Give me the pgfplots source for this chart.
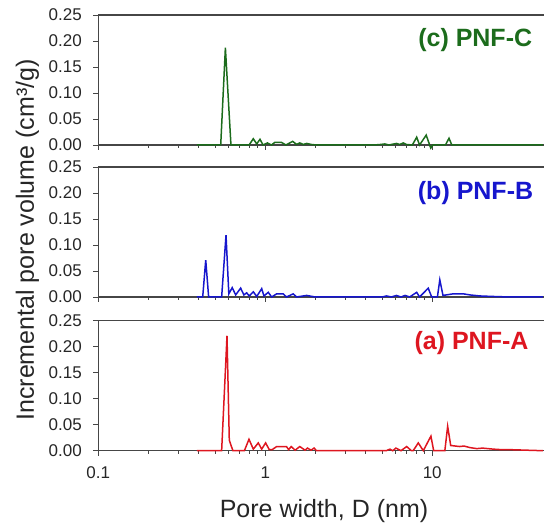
\documentclass[border=0pt]{standalone}
\usepackage{pgfplots}
\pgfplotsset{compat=1.18}
\usepackage{fontspec}
\setmainfont{Liberation Sans}
\definecolor{cred}{RGB}{222,22,32}
\definecolor{cblue}{RGB}{22,22,205}
\definecolor{cgreen}{RGB}{28,108,28}
\definecolor{axgray}{RGB}{70,70,70}
\pgfplotsset{
  panel/.style={
    width=445.7pt, height=130pt, scale only axis,
    xmin=0.1, xmax=46.7, ymin=0, ymax=0.25,
    axis x line*=box, axis y line*=left,
    xtick pos=lower, ytick pos=left,
    tick align=outside,
    major tick length=5pt, minor tick length=3pt,
    every tick/.style={axgray, line width=0.8pt},
    axis line style={axgray, line width=1.2pt},
    xtick={0.1,1,10},
    ytick={0,0.05,0.10,0.15,0.20,0.25},
    /pgf/number format/assume math mode=true,
    yticklabel={\pgfmathprintnumber[fixed,fixed zerofill,precision=2]{\tick}\hspace*{8pt}},
    yticklabel style={font=\fontsize{17}{20}\selectfont, text=black!85},
    xticklabel style={font=\fontsize{17}{20}\selectfont, text=black!85},
    clip=false,
  }
}
\begin{document}
\begin{tikzpicture}
\path[use as bounding box] (0,0) rectangle (544pt,-526pt);
% Panel C
\begin{semilogxaxis}[panel, at={(98.3pt,-145pt)}, anchor=south west, xticklabels={}]
\addplot[cgreen, line width=1.5pt] coordinates {
(0.39,0) (0.541,0) (0.577,0.187) (0.623,0) (0.80,0) (0.848,0.012) (0.889,0.002) (0.93,0.011) (0.97,0) (1.03,0.004) (1.09,0) (1.14,0.005) (1.25,0.005) (1.33,0) (1.46,0.007) (1.54,0.001) (1.61,0.004) (1.69,0.001) (1.77,0.003) (1.89,0.001) (2.03,0) (4.5,0) (4.9,0.001) (5.2,0.002) (5.5,0) (6.1,0.003) (6.4,0.001) (6.7,0.004) (7.0,0.001) (7.6,0) (8.07,0.015) (8.4,0) (9.2,0.019) (9.8,-0.006) (10.1,0) (12.0,0) (12.6,0.013) (13.1,0) (46,0)
};
\end{semilogxaxis}
% Panel B
\begin{semilogxaxis}[panel, at={(98.3pt,-297pt)}, anchor=south west, xticklabels={}]
\addplot[cblue, line width=1.5pt] coordinates {
(0.39,0) (0.422,0) (0.44,0.071) (0.458,0) (0.548,0) (0.582,0.119) (0.605,0.006) (0.634,0.018) (0.665,0.004) (0.712,0.017) (0.745,0.004) (0.774,0.008) (0.802,0.002) (0.848,0.010) (0.889,0.001) (0.952,0.016) (0.982,0.002) (1.042,0.009) (1.092,0) (1.17,0.006) (1.28,0.006) (1.34,0) (1.47,0.006) (1.54,0) (1.77,0.003) (1.99,0) (5.0,0) (5.33,0.002) (5.7,0) (6.1,0.003) (6.5,0) (6.88,0.003) (7.32,0) (8.07,0.009) (8.4,0) (9.46,0.017) (9.93,0) (10.74,0) (11.1,0.033) (11.6,0.003) (13.3,0.006) (15.4,0.006) (16.8,0.004) (19.3,0.002) (23.2,0.001) (29.2,0) (46,0)
};
\end{semilogxaxis}
% Panel A
\begin{semilogxaxis}[panel, at={(98.3pt,-450.7pt)}, anchor=south west, xticklabels={\rule{0pt}{19pt}0.1,\rule{0pt}{19pt}1,\rule{0pt}{19pt}10}]
\addplot[cred, line width=1.5pt] coordinates {
(0.39,0) (0.548,0) (0.590,0.221) (0.609,0.02) (0.64,0) (0.75,0) (0.799,0.022) (0.848,0.003) (0.908,0.015) (0.952,0.003) (1.005,0.015) (1.057,0.002) (1.1,0.002) (1.17,0.008) (1.25,0.008) (1.34,0.008) (1.38,0.002) (1.43,0.008) (1.51,0.001) (1.61,0.008) (1.73,0.001) (1.79,0.005) (1.88,0.001) (1.96,0.005) (2.03,0) (5.3,0) (5.58,0.003) (5.8,0) (6.06,0.005) (6.5,0) (7.03,0.008) (7.5,0) (7.69,0) (8.25,0.015) (8.84,0) (9.82,0.028) (10.2,0) (11.9,0) (12.37,0.047) (12.9,0.01) (14.6,0.008) (15.5,0.009) (16.8,0.006) (18.5,0.004) (20,0.005) (23.2,0.003) (26,0.002) (29.2,0.002) (36.7,0.001) (46,0)
};
\end{semilogxaxis}
\node[rotate=90, anchor=base, font=\fontsize{25}{30}\selectfont, text=black!85] at (34pt,-240pt) {Incremental pore volume (cm³/g)};
\node[anchor=base, font=\fontsize{25}{30}\selectfont, text=black!85] at (324pt,-518pt) {Pore width, D (nm)};
\node[anchor=base east, font=\fontsize{25}{30}\selectfont\bfseries, text=cgreen] at (535.7pt,-46.7pt) {(c) PNF-C};
\node[anchor=base east, font=\fontsize{25}{30}\selectfont\bfseries, text=cblue] at (536.7pt,-200pt) {(b) PNF-B};
\node[anchor=base east, font=\fontsize{25}{30}\selectfont\bfseries, text=cred] at (532pt,-350pt) {(a) PNF-A};
\end{tikzpicture}
\end{document}
